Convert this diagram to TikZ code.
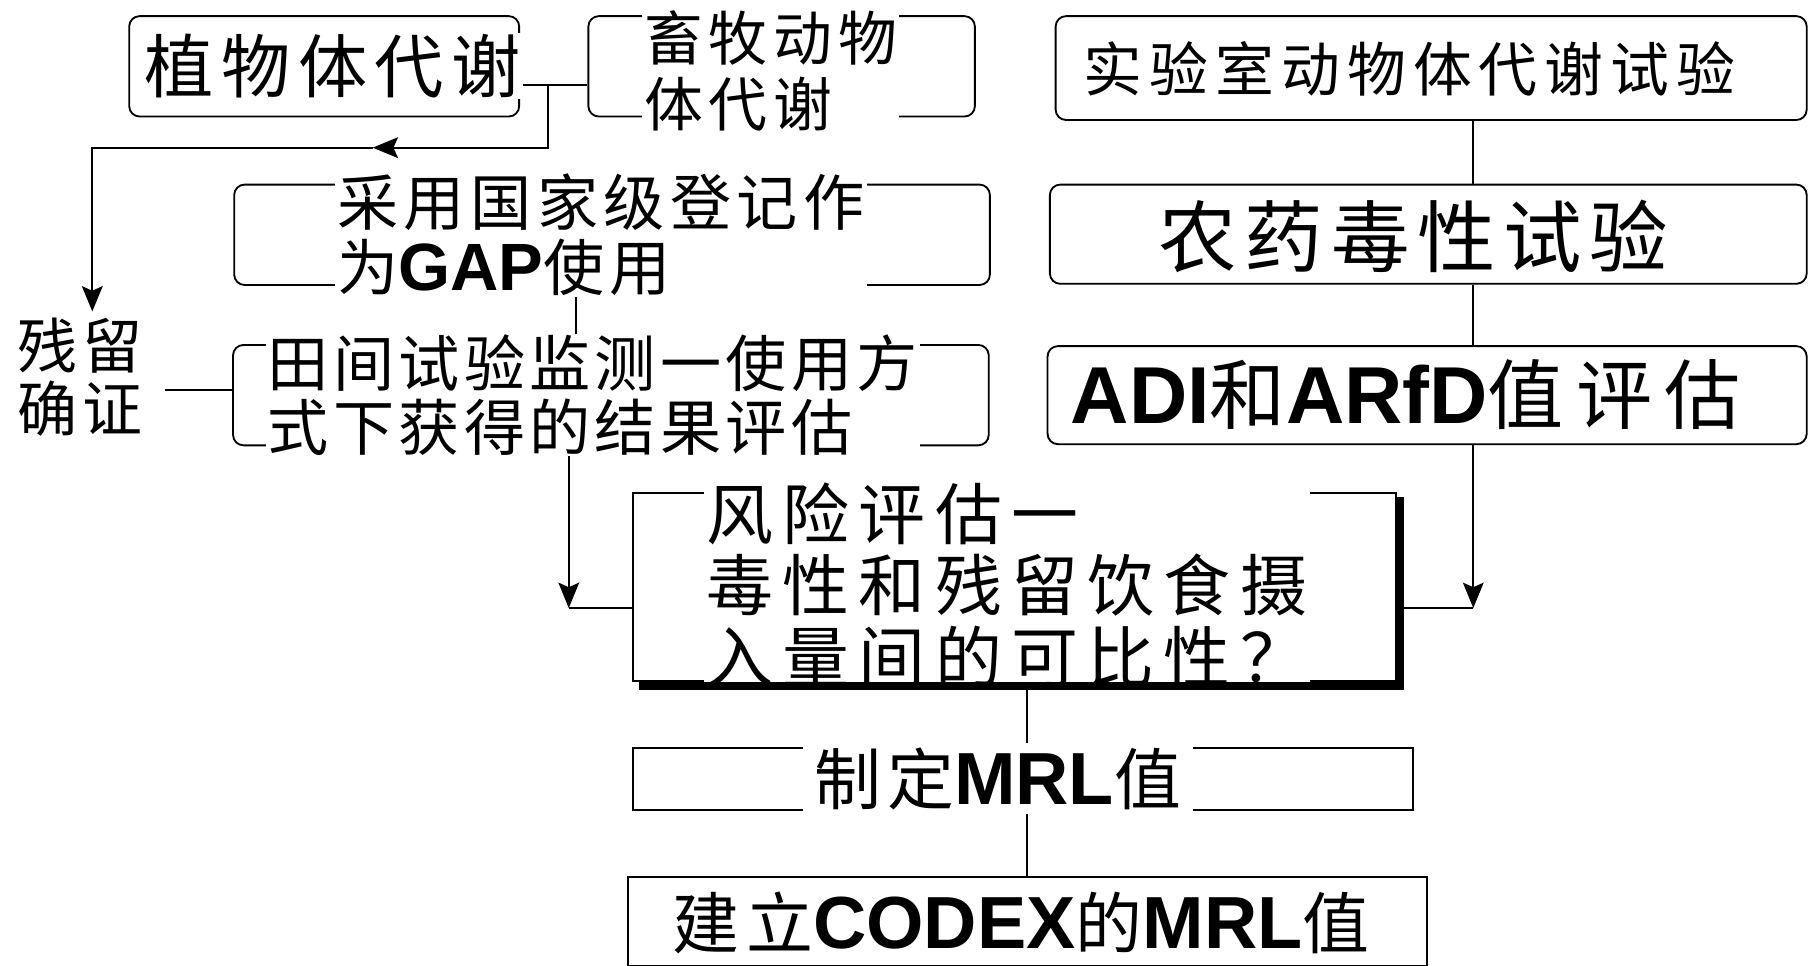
\documentclass[tikz,border=0pt]{standalone}
\usepackage{fontspec}
\newfontfamily\cjk{Noto Sans CJK SC}
\newfontfamily\lat{Liberation Sans}
\usetikzlibrary{arrows.meta,calc}
\newcommand\fz[2]{\fontsize{#1}{#2}\selectfont}
\newcommand\LB[2]{{\lat\bfseries\fontsize{#1}{#1}\selectfont #2}}
\begin{document}
\begin{tikzpicture}[x=1pt,y=-1pt,
  rbox/.style={draw, rounded corners=9pt, line width=1.6pt, inner sep=0pt},
  sbox/.style={draw, line width=1.6pt, inner sep=0pt},
  txt/.style={fill=white, inner xsep=2pt, inner ysep=1pt, align=left, anchor=west},
  link/.style={line width=1.6pt},
  arr/.style={line width=1.6pt, -{Stealth[length=22pt,width=18pt,inset=4pt,fill=black]}},
]
\useasboundingbox (0,0) rectangle (1568,837);
\fill[white] (0,0) rectangle (1568,837);
\clip (0,0) rectangle (1568,837);

% boxes
\node[rbox, minimum width=338pt, minimum height=87pt] (A) at (281,57.5) {};
\node[rbox, minimum width=335pt, minimum height=87pt] (B) at (677.5,57.5) {};
\node[rbox, minimum width=651pt, minimum height=90pt] (E) at (1240.5,59) {};
\node[rbox, minimum width=656pt, minimum height=86pt] (F) at (1238,203) {};
\node[rbox, minimum width=658pt, minimum height=85pt] (G) at (1237,342.5) {};
\node[rbox, minimum width=655pt, minimum height=87pt] (C) at (530.5,203.5) {};
\node[rbox, minimum width=655pt, minimum height=87pt] (D) at (529.5,342.5) {};
\node[sbox, minimum width=661pt, minimum height=163pt] (H) at (879.5,508.5) {};
\node[sbox, minimum width=676pt, minimum height=54pt] (I) at (887,675) {};
\node[sbox, minimum width=693pt, minimum height=77pt] (J) at (890.5,798.5) {};

% helper coordinates
\coordinate (j1) at (475,74);
\coordinate (m1) at (323,128);
\coordinate (t1) at (80,270);
\coordinate (rx) at (1277,0);
\coordinate (cx) at (499,0);
\coordinate (hx) at (890,0);
\coordinate (rd) at (143,338);
\coordinate (lc) at (493,527);
\coordinate (rc) at (1277,527);

% connectors
\draw[link] (A.east |- j1) -- (B.west |- j1);
\draw[arr] (j1) |- (m1);
\draw[arr] (m1) -| (t1);
\draw[link] (E.south -| rx) -- (F.north -| rx);
\draw[link] (F.south -| rx) -- (G.north -| rx);
\draw[link] (C.south -| cx) -- (D.north -| cx);
\draw[link] (rd) -- (D.west |- rd);
\draw[arr] (D.south -| lc) -- (lc);
\draw[link] (lc) -- (H.west |- lc);
\draw[arr] (G.south -| rc) -- (rc);
\draw[link] (rc) -- (H.east |- rc);
\draw[link] (H.south -| hx) -- (I.north -| hx);
\draw[link] (I.south -| hx) -- (J.north -| hx);

% texts
\node[txt, font=\cjk\fz{60}{60}\addfontfeature{LetterSpace=11}] (tA) at (123,57) {植物体代谢};
\node[txt, font=\cjk\fz{51}{57}\addfontfeature{LetterSpace=10}] (tB) at (556,61.5) {畜牧动物\\体代谢};
\node[txt, font=\cjk\fz{51}{57}\addfontfeature{LetterSpace=12}] (tE) at (937,60) {实验室动物体代谢试验};
\node[txt, font=\cjk\fz{68}{70}\addfontfeature{LetterSpace=10}] (tF) at (1002,205) {农药毒性试验};
\node[txt, font=\cjk\fz{53}{57}\addfontfeature{LetterSpace=9}] (tC) at (290,203.5) {采用国家级登记作\\为\LB{58}{GAP}使用};
\node[txt, font=\cjk\fz{53}{55}\addfontfeature{LetterSpace=7}] (tD) at (230,342.5) {田间试验监测一使用方\\式下获得的结果评估};
\node[txt, fill=none, font=\cjk\fz{52}{55}\addfontfeature{LetterSpace=8}] (tR) at (13,327) {残留\\确证};
\node[txt, font=\cjk\fz{66}{66}\addfontfeature{LetterSpace=16}] (tG) at (926,342) {\LB{70}{ADI}和\LB{70}{ARfD}值评估};
\node[txt, font=\cjk\fz{58}{62}\addfontfeature{LetterSpace=14}] (tH) at (610,507) {风险评估一\\毒性和残留饮食摄\\入量间的可比性？};
\node[txt, anchor=center, inner xsep=10pt, inner ysep=4pt, font=\cjk\fz{58}{60}\addfontfeature{LetterSpace=8}] (tI) at (865,675) {制定\LB{64}{MRL}值};
\node[txt, anchor=center, font=\cjk\fz{58}{60}\addfontfeature{LetterSpace=10}] (tJ) at (885,800) {建立\LB{64}{CODEX}的\LB{64}{MRL}值};

% shadow of the risk box
\fill ([yshift=-5pt]H.north east) rectangle ([xshift=6pt,yshift=-7pt]H.south east);
\fill ([xshift=6pt]H.south west) rectangle ([xshift=6pt,yshift=-7pt]H.south east);
\end{tikzpicture}
\end{document}
